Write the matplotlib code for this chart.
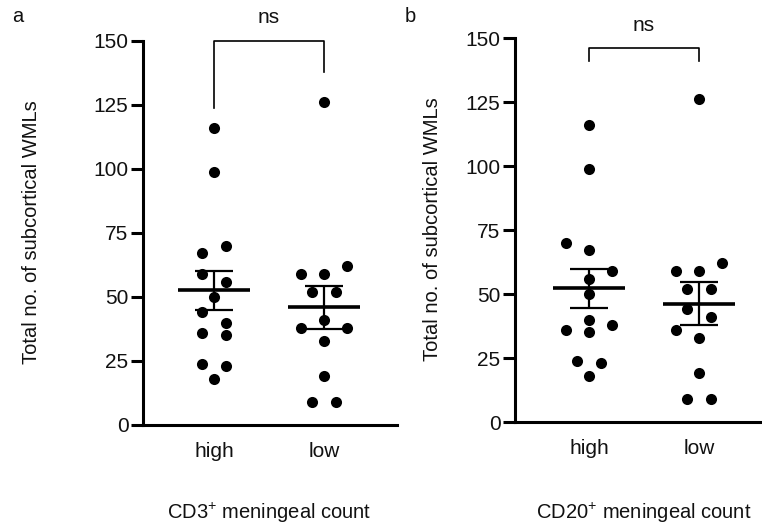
import matplotlib
matplotlib.use('Agg')
import matplotlib.pyplot as plt
import matplotlib.transforms as mtransforms
import numpy as np

plt.rcParams['font.family'] = ['Liberation Sans', 'DejaVu Sans']
plt.rcParams['mathtext.fontset'] = 'custom'
plt.rcParams['mathtext.rm'] = 'Liberation Sans'
plt.rcParams['mathtext.it'] = 'Liberation Sans:italic'

# -----------------------data-----------------------
groups = ['high', 'low']
y_ticks = [0, 25, 50, 75, 100, 125, 150]

# panel a: split by CD3+ meningeal count
cd3_high = [116, 99, 70, 67, 59, 56, 50, 44, 40, 36, 35, 24, 23, 18]
cd3_low = [126, 62, 59, 59, 52, 52, 41, 38, 38, 33, 19, 9, 9]
# column slot of each dot inside the scatter (in half steps)
cd3_high_slot = [0, 0, 1, -1, -1, 1, 0, -1, 1, -1, 1, -1, 1, 0]
cd3_low_slot = [0, 2, -2, 0, -1, 1, 0, -2, 2, 0, 0, -1, 1]

# panel b: split by CD20+ meningeal count
cd20_high = [116, 99, 70, 67, 59, 56, 50, 40, 38, 36, 35, 24, 23, 18]
cd20_low = [126, 62, 59, 59, 52, 52, 44, 41, 36, 33, 19, 9, 9]
cd20_high_slot = [0, 0, -2, 0, 2, 0, 0, 0, 2, -2, 0, -1, 1, 0]
cd20_low_slot = [0, 2, -2, 0, -1, 1, -1, 1, -2, 0, 0, -1, 1]

# -----------------------fig configuration-----------------------
W, H = 762, 531
fig = plt.figure(figsize=(W / 100, H / 100), dpi=100)
tick_size = 15
label_size = 14.5
slot_step = 0.106
mean_half = 0.33
cap_half = 0.17
ink = '#111111'


def draw_panel(ax, high, low, high_slot, low_slot, xlim, xlabel, bracket):
    for i, (vals, slots) in enumerate([(high, high_slot), (low, low_slot)]):
        vals = np.array(vals, dtype=float)
        xs = i + np.array(slots) * slot_step
        ax.scatter(xs, vals, s=64, color='black', linewidths=0, zorder=2, clip_on=False)
        m = vals.mean()
        se = vals.std(ddof=1) / np.sqrt(len(vals))
        ax.hlines(m, i - mean_half, i + mean_half, color='black', lw=2.6, zorder=3)
        ax.vlines(i, m - se, m + se, color='black', lw=1.6, zorder=3)
        ax.hlines([m - se, m + se], i - cap_half, i + cap_half, color='black', lw=1.6, zorder=3)

    ax.set_xlim(*xlim)
    ax.set_ylim(0, 150)
    ax.set_yticks(y_ticks)
    ax.set_yticklabels([str(t) for t in y_ticks], fontsize=tick_size, color=ink)
    ax.set_xticks([0, 1])
    ax.set_xticklabels(groups, fontsize=tick_size, color=ink)
    ax.tick_params(axis='y', length=9, width=2.2, pad=1.5)
    ax.tick_params(axis='x', length=0, pad=12)
    for s in ['top', 'right']:
        ax.spines[s].set_visible(False)
    for s in ['left', 'bottom']:
        ax.spines[s].set_linewidth(2.2)

    # significance bracket
    top, left_end, right_end, text_y = bracket
    ax.plot([0, 0, 1, 1], [left_end, top, top, right_end], color='black', lw=1.2, clip_on=False)
    ax.text(0.5, text_y, 'ns', ha='center', va='center', fontsize=tick_size, color=ink)

    trans = mtransforms.blended_transform_factory(ax.transData, fig.transFigure)
    ax.text(0.5, 18 / H, xlabel, transform=trans, ha='center', va='center',
            fontsize=label_size, color=ink)


ax_a = fig.add_axes([143 / W, 106 / H, 254 / W, 384 / H])
draw_panel(ax_a, cd3_high, cd3_low, cd3_high_slot, cd3_low_slot, (-0.645, 1.664),
           'CD3$^{+}$ meningeal count', (150, 124, 138, 159))

ax_b = fig.add_axes([515 / W, 109 / H, 247 / W, 384 / H])
draw_panel(ax_b, cd20_high, cd20_low, cd20_high_slot, cd20_low_slot, (-0.673, 1.573),
           'CD20$^{+}$ meningeal count', (146, 141, 141, 155))

# y labels and panel letters
fig.text(32 / W, 1 - 232 / H, 'Total no. of subcortical WMLs', rotation=90,
         ha='center', va='center', fontsize=label_size, color=ink)
fig.text(433 / W, 1 - 229 / H, 'Total no. of subcortical WMLs', rotation=90,
         ha='center', va='center', fontsize=label_size, color=ink)
fig.text(18 / W, 1 - 17 / H, 'a', ha='center', va='center', fontsize=label_size, color=ink)
fig.text(410 / W, 1 - 17 / H, 'b', ha='center', va='center', fontsize=label_size, color=ink)

fig.savefig('out.png', dpi=100)
